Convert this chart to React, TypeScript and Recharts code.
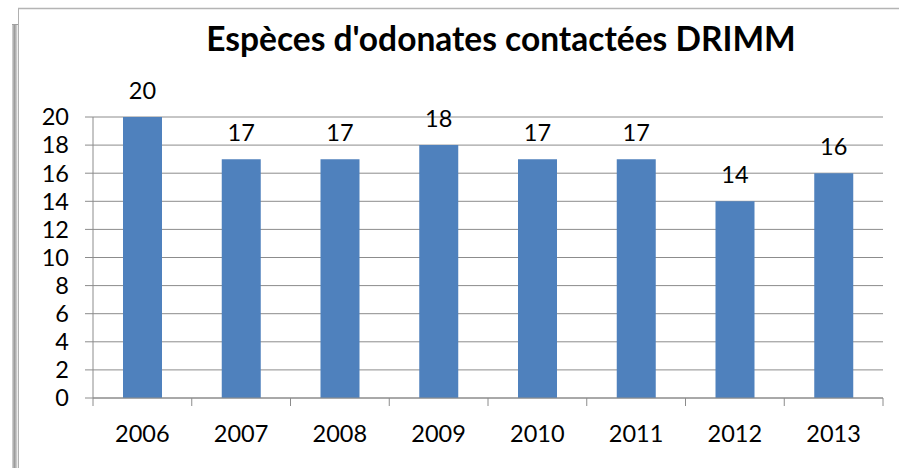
import React from "react";
import { BarChart, Bar, XAxis, YAxis, CartesianGrid, LabelList } from "recharts";

const years = ["2006", "2007", "2008", "2009", "2010", "2011", "2012", "2013"];
const species = [20, 17, 17, 18, 17, 17, 14, 16];
const yTicks = [0, 2, 4, 6, 8, 10, 12, 14, 16, 18, 20];
const title = "Espèces d'odonates contactées DRIMM";

const data = years.map((y, i) => ({ year: y, value: species[i] }));

const W = 899;
const H = 468;
const MARGIN = { top: 117, right: 16, bottom: 30, left: 33 };
const Y_WIDTH = 60;
const X_HEIGHT = 40;
const PLOT_W = W - MARGIN.left - Y_WIDTH - MARGIN.right;
const HALF_BAND = PLOT_W / years.length / 2;
const FONT = "Lato, 'Open Sans', sans-serif";
const AXIS = "#8c8c8c";
const NUM_SIZE = 23.5;

const XTick = (props: any) => {
  const { x, y, payload, index } = props;
  const last = index === years.length - 1;
  return (
    <g>
      <line x1={x - HALF_BAND} x2={x - HALF_BAND} y1={y} y2={y + 8} stroke={AXIS} strokeWidth={1} />
      {last && <line x1={x + HALF_BAND} x2={x + HALF_BAND} y1={y} y2={y + 8} stroke={AXIS} strokeWidth={1} />}
      <text x={x} y={y + 44} textAnchor="middle" fontSize={NUM_SIZE} fontFamily={FONT} fill="#000">
        {payload.value}
      </text>
    </g>
  );
};

export default function App() {
  return (
    <div style={{ position: "fixed", left: 0, top: 0, width: W, height: H, background: "#fff" }}>
      <BarChart width={W} height={H} data={data} margin={MARGIN} barSize={39}>
        <CartesianGrid horizontal={true} vertical={false} stroke={AXIS} strokeWidth={1} />
        <XAxis
          dataKey="year"
          height={X_HEIGHT}
          axisLine={{ stroke: AXIS }}
          tickLine={false}
          tickSize={0}
          tickMargin={0}
          tick={<XTick />}
          interval={0}
        />
        <YAxis
          width={Y_WIDTH}
          domain={[0, 20]}
          ticks={yTicks}
          interval={0}
          axisLine={{ stroke: AXIS }}
          tickLine={{ stroke: AXIS }}
          tickSize={8}
          tickMargin={16}
          tick={{ fontSize: NUM_SIZE, fontFamily: FONT, fill: "#000" }}
        />
        <Bar dataKey="value" fill="#4F81BD" isAnimationActive={false}>
          <LabelList dataKey="value" position="top" offset={18} fontSize={NUM_SIZE} fontFamily={FONT} fill="#000" />
        </Bar>
      </BarChart>
      <svg width={W} height={H} style={{ position: "absolute", left: 0, top: 0, pointerEvents: "none" }}>
        <defs>
          <linearGradient id="edge" x1="0" x2="1" y1="0" y2="0">
            <stop offset="0%" stopColor="#d8d8d8" />
            <stop offset="40%" stopColor="#9a9a9a" />
            <stop offset="75%" stopColor="#c8c8c8" />
            <stop offset="100%" stopColor="#ffffff" />
          </linearGradient>
        </defs>
        <rect x={12} y={24} width={6} height={H - 24} fill="url(#edge)" />
        <line x1={12} x2={18} y1={24.5} y2={24.5} stroke="#a0a0a0" />
        <line x1={18.5} x2={18.5} y1={8} y2={H} stroke="#b0b0b0" />
        <line x1={18} x2={W} y1={8.5} y2={8.5} stroke="#b4b4b4" strokeWidth={1.5} />
        <text x={501} y={51} textAnchor="middle" fontSize={33.5} fontWeight="bold" fontFamily={FONT} fill="#000">
          {title}
        </text>
      </svg>
    </div>
  );
}
